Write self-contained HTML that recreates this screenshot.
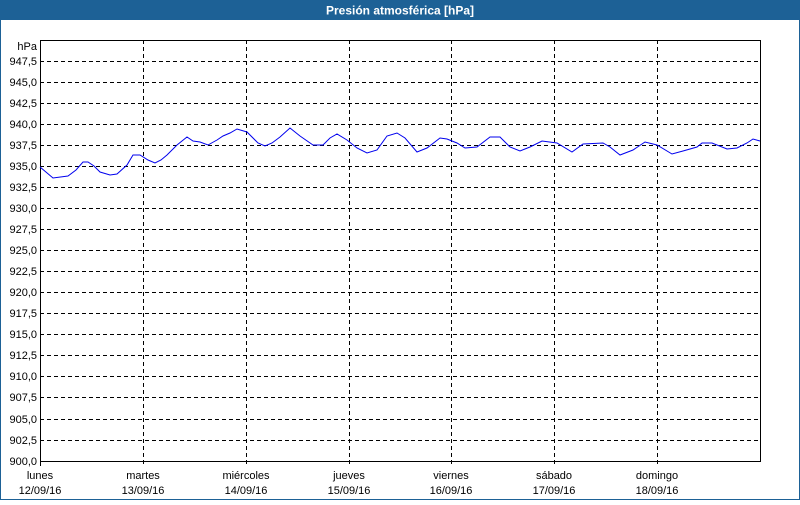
<!DOCTYPE html>
<html><head><meta charset="utf-8"><style>
body{margin:0;width:800px;height:500px;overflow:hidden;background:#fff;font-family:"Liberation Sans",sans-serif}
</style></head><body>
<svg width="800" height="500" xmlns="http://www.w3.org/2000/svg" font-family="Liberation Sans, sans-serif" font-size="11">
<rect x="0" y="0" width="800" height="500" fill="#fff"/>
<rect x="0" y="0" width="800" height="20" fill="#1d6196"/>
<rect x="0.5" y="0.5" width="799" height="499" fill="none" stroke="#1d6196"/>
<text x="400" y="14.5" fill="#fff" font-weight="bold" font-size="12" text-anchor="middle">Presión atmosférica [hPa]</text>
<g stroke="#000" stroke-dasharray="4,3" stroke-width="1">
<line x1="40" x2="760" y1="61.5" y2="61.5"/><line x1="40" x2="760" y1="82.5" y2="82.5"/><line x1="40" x2="760" y1="103.5" y2="103.5"/><line x1="40" x2="760" y1="124.5" y2="124.5"/><line x1="40" x2="760" y1="145.5" y2="145.5"/><line x1="40" x2="760" y1="166.5" y2="166.5"/><line x1="40" x2="760" y1="187.5" y2="187.5"/><line x1="40" x2="760" y1="208.5" y2="208.5"/><line x1="40" x2="760" y1="229.5" y2="229.5"/><line x1="40" x2="760" y1="250.5" y2="250.5"/><line x1="40" x2="760" y1="271.5" y2="271.5"/><line x1="40" x2="760" y1="292.5" y2="292.5"/><line x1="40" x2="760" y1="313.5" y2="313.5"/><line x1="40" x2="760" y1="334.5" y2="334.5"/><line x1="40" x2="760" y1="355.5" y2="355.5"/><line x1="40" x2="760" y1="376.5" y2="376.5"/><line x1="40" x2="760" y1="397.5" y2="397.5"/><line x1="40" x2="760" y1="419.5" y2="419.5"/><line x1="40" x2="760" y1="440.5" y2="440.5"/>
<line x1="143.5" x2="143.5" y1="40" y2="466"/><line x1="246.5" x2="246.5" y1="40" y2="466"/><line x1="349.5" x2="349.5" y1="40" y2="466"/><line x1="451.5" x2="451.5" y1="40" y2="466"/><line x1="554.5" x2="554.5" y1="40" y2="466"/><line x1="657.5" x2="657.5" y1="40" y2="466"/>
</g>
<line x1="40.5" x2="40.5" y1="461" y2="466" stroke="#000"/>
<rect x="40.5" y="40.5" width="720" height="421" fill="none" stroke="#000"/>
<g text-anchor="end" fill="#000">
<text x="37" y="50">hPa</text>
<text x="37" y="65">947,5</text><text x="37" y="86">945,0</text><text x="37" y="107">942,5</text><text x="37" y="128">940,0</text><text x="37" y="149">937,5</text><text x="37" y="170">935,0</text><text x="37" y="191">932,5</text><text x="37" y="212">930,0</text><text x="37" y="233">927,5</text><text x="37" y="254">925,0</text><text x="37" y="275">922,5</text><text x="37" y="296">920,0</text><text x="37" y="317">917,5</text><text x="37" y="338">915,0</text><text x="37" y="359">912,5</text><text x="37" y="380">910,0</text><text x="37" y="401">907,5</text><text x="37" y="423">905,0</text><text x="37" y="444">902,5</text><text x="37" y="465">900,0</text>
</g>
<g text-anchor="middle" fill="#000">
<text x="40" y="479">lunes</text><text x="40" y="494">12/09/16</text>
<text x="143" y="479">martes</text><text x="143" y="494">13/09/16</text>
<text x="246" y="479">miércoles</text><text x="246" y="494">14/09/16</text>
<text x="349" y="479">jueves</text><text x="349" y="494">15/09/16</text>
<text x="451" y="479">viernes</text><text x="451" y="494">16/09/16</text>
<text x="554" y="479">sábado</text><text x="554" y="494">17/09/16</text>
<text x="657" y="479">domingo</text><text x="657" y="494">18/09/16</text>
</g>
<polyline fill="none" stroke="#0000ee" stroke-width="1" points="40,167 53,178 68,176 76,170 83,162 88,162 94,166 100,172 110,175 117,174 127,165 133,155 140,155 148,160 155,163 161,160 167,155 177,145 187,137 193,141 200,142 208,145 217,140 223,136 230,133 237,129 247,132 258,143 265,146 272,143 280,137 290,128 300,136 313,145 323,145 330,138 337,134 347,140 357,148 367,153 377,150 387,136 397,133 405,138 417,152 427,148 440,138 447,139 457,143 465,148 477,147 490,137 500,137 510,147 520,151 530,147 542,141 557,143 572,152 583,144 603,143 610,147 620,155 633,150 645,142 657,145 672,154 683,151 697,147 702,143 712,143 727,149 737,148 747,143 753,139 760,141"/>
</svg>
</body></html>
